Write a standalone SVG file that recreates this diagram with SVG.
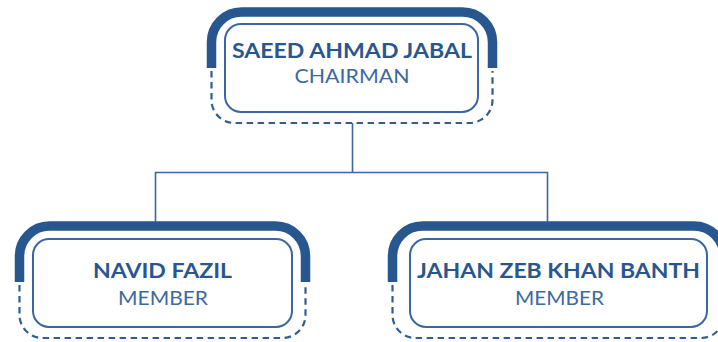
<svg xmlns="http://www.w3.org/2000/svg" width="718" height="342" viewBox="0 0 718 342">
<style>
.thick{fill:none;stroke:#28578f;stroke-width:9.5}
.dash{fill:none;stroke:#2f5d96;stroke-width:2.2;stroke-dasharray:6.5 4.5}
.inner{fill:#fff;stroke:#3a67a1;stroke-width:2}
.name{font-family:Lato,"Open Sans",sans-serif;font-weight:bold;font-size:21px;fill:#2a5690;text-anchor:middle}
.role{font-family:Lato,"Open Sans",sans-serif;font-weight:normal;font-size:19px;fill:#3c68a3;text-anchor:middle}
.conn{fill:none;stroke:#3a68a3;stroke-width:1.6}
</style>
<rect width="718" height="342" fill="#fff"/>
<g id="connectors">
<path class="conn" d="M352.5,123 V172.5 M155.5,222 V172.5 H547.5 V222"/>
</g>
<g id="node-chairman">
<path class="thick" d="M211.5,68 V42 A30,30 0 0 1 241.5,12 H462.5 A30,30 0 0 1 492.5,42 V68"/>
<path class="dash" d="M211.5,71 V100 A23,23 0 0 0 234.5,123 H469.5 A23,23 0 0 0 492.5,100 V71"/>
<rect class="inner" x="225" y="24" width="253" height="88" rx="16"/>
<text class="name" x="352" y="58" textLength="240" lengthAdjust="spacingAndGlyphs">SAEED AHMAD JABAL</text>
<text class="role" x="352" y="83" textLength="115" lengthAdjust="spacingAndGlyphs">CHAIRMAN</text>
</g>
<g id="node-navid">
<path class="thick" d="M19.5,282 V256 A30,30 0 0 1 49.5,226 H275.5 A30,30 0 0 1 305.5,256 V282"/>
<path class="dash" d="M19.5,285 V315 A23,23 0 0 0 42.5,338 H282.5 A23,23 0 0 0 305.5,315 V285"/>
<rect class="inner" x="33" y="239" width="259" height="88" rx="16"/>
<text class="name" x="162.5" y="278" textLength="139" lengthAdjust="spacingAndGlyphs">NAVID FAZIL</text>
<text class="role" x="163" y="305" textLength="90" lengthAdjust="spacingAndGlyphs">MEMBER</text>
</g>
<g id="node-jahan">
<path class="thick" d="M392.5,282 V256 A30,30 0 0 1 422.5,226 H694 A30,30 0 0 1 724,256 V282"/>
<path class="dash" d="M392.5,285 V315 A23,23 0 0 0 415.5,338 H701 A23,23 0 0 0 724,315 V285"/>
<rect class="inner" x="410" y="239" width="297" height="88" rx="16"/>
<text class="name" x="558.5" y="278" textLength="283" lengthAdjust="spacingAndGlyphs">JAHAN ZEB KHAN BANTH</text>
<text class="role" x="559.5" y="305" textLength="89" lengthAdjust="spacingAndGlyphs">MEMBER</text>
</g>
</svg>
